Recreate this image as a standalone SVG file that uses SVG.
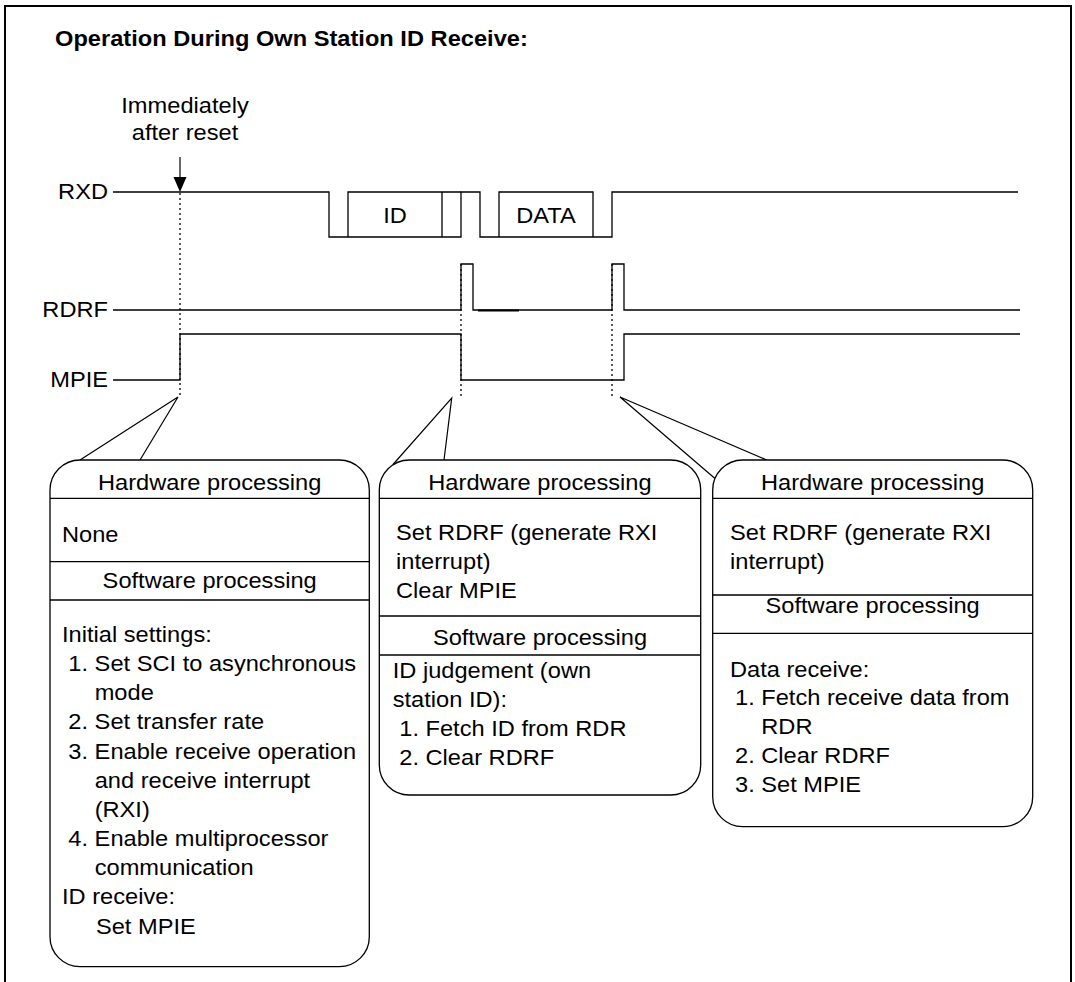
<svg xmlns="http://www.w3.org/2000/svg" width="1075" height="982" viewBox="0 0 1075 982">
<style>
text{font-family:"Liberation Sans",Arial,Helvetica,sans-serif;font-size:22px;fill:#000}
.t{font-weight:bold}
.m{text-anchor:middle}
.e{text-anchor:end}
.w{fill:none;stroke:#000;stroke-width:1.3}
.box{fill:#fff;stroke:#000;stroke-width:1.3}
.div{stroke:#000;stroke-width:1.3}
.dot{stroke:#000;stroke-width:1.3;stroke-dasharray:2 3}
.cl{stroke:#000;stroke-width:1.2}
</style>
<rect x="5" y="6" width="1066" height="990" fill="#fff" stroke="#000" stroke-width="2"/>
<g id="title" transform="matrix(1.075 0 0 1 55 0)"><text class="t" x="0" y="46">Operation During Own Station ID Receive:</text></g>
<g id="reset-label" transform="matrix(1.075 0 0 1 185 0)">
<text class="m" x="0" y="113">Immediately</text>
<text class="m" x="0" y="140">after reset</text>
</g>
<g id="signal-labels" transform="matrix(1.075 0 0 1 108 0)">
<text class="e" x="0" y="199">RXD</text>
<text class="e" x="0" y="317">RDRF</text>
<text class="e" x="0" y="387">MPIE</text>
</g>
<g id="waveforms">
<path class="w" d="M113,192 H329 V237 H461 V192 H480 V237 H612 V192 H1018"/>
<path class="w" d="M348,237 V192 H461 M442,192 V237 M499,237 V192 H593 V237"/>
<path class="w" d="M113,310 H461 V264 H473 V310 H612 V264 H624 V310 H1020"/>
<line x1="478" y1="310.4" x2="519" y2="310.4" stroke="#000" stroke-width="2"/>
<path class="w" d="M113,380 H180 V334 H461 V380 H624 V334 H1020"/>
<g transform="matrix(1.075 0 0 1 395 0)"><text class="m" x="0" y="223">ID</text></g>
<g transform="matrix(1.075 0 0 1 546 0)"><text class="m" x="0" y="223">DATA</text></g>
</g>
<g id="connectors">
<line class="cl" x1="180" y1="157" x2="180" y2="178"/>
<polygon points="173.5,177 186.5,177 180,192" fill="#000"/>
<line class="dot" x1="180" y1="193" x2="180" y2="397"/>
<line class="dot" x1="461" y1="264" x2="461" y2="397"/>
<line class="dot" x1="612" y1="264" x2="612" y2="397"/>
<polyline class="cl" fill="none" points="80,460 178,397 140,460"/>
<polyline class="cl" fill="none" points="393,464.5 451.7,398 444,460"/>
<polyline class="cl" fill="none" points="715,478.5 620,397 766.7,460"/>
</g>
<g id="box1">
<rect class="box" x="50" y="460" width="319.3" height="506.7" rx="30" ry="30"/>
<line class="div" x1="50" y1="498.3" x2="369.3" y2="498.3"/>
<line class="div" x1="50" y1="561.7" x2="369.3" y2="561.7"/>
<line class="div" x1="50" y1="600" x2="369.3" y2="600"/>
<g transform="matrix(1.075 0 0 1 62 0)">
<text class="m" x="137.4" y="490">Hardware processing</text>
<text x="0" y="541.7">None</text>
<text class="m" x="137.4" y="588">Software processing</text>
<text x="0" y="642">Initial settings:</text>
<text x="5.9" y="671.2">1. Set SCI to asynchronous</text>
<text x="30.4" y="700.3">mode</text>
<text x="5.9" y="729.5">2. Set transfer rate</text>
<text x="5.9" y="758.6">3. Enable receive operation</text>
<text x="30.4" y="787.8">and receive interrupt</text>
<text x="30.4" y="817">(RXI)</text>
<text x="5.9" y="846.1">4. Enable multiprocessor</text>
<text x="30.4" y="875.3">communication</text>
<text x="0" y="904.4">ID receive:</text>
<text x="31.6" y="933.6">Set MPIE</text>
</g>
</g>
<g id="box2">
<rect class="box" x="379.3" y="460" width="321.4" height="335" rx="30" ry="30"/>
<line class="div" x1="379.3" y1="498.3" x2="700.7" y2="498.3"/>
<line class="div" x1="379.3" y1="616" x2="700.7" y2="616"/>
<line class="div" x1="379.3" y1="655" x2="700.7" y2="655"/>
<g transform="matrix(1.075 0 0 1 392.7 0)">
<text class="m" x="137" y="490">Hardware processing</text>
<text x="3.1" y="540">Set RDRF (generate RXI</text>
<text x="3.1" y="569">interrupt)</text>
<text x="3.1" y="598">Clear MPIE</text>
<text class="m" x="137" y="645">Software processing</text>
<text x="0" y="678.5">ID judgement (own</text>
<text x="0" y="707">station ID):</text>
<text x="6.1" y="736">1. Fetch ID from RDR</text>
<text x="6.1" y="765">2. Clear RDRF</text>
</g>
</g>
<g id="box3">
<rect class="box" x="712.7" y="460" width="320" height="366.7" rx="30" ry="30"/>
<line class="div" x1="712.7" y1="498.3" x2="1032.7" y2="498.3"/>
<line class="div" x1="712.7" y1="595" x2="1032.7" y2="595"/>
<line class="div" x1="712.7" y1="633.3" x2="1032.7" y2="633.3"/>
<g transform="matrix(1.075 0 0 1 730 0)">
<text class="m" x="132.7" y="490">Hardware processing</text>
<text x="0" y="540">Set RDRF (generate RXI</text>
<text x="0" y="569">interrupt)</text>
<text class="m" x="132.7" y="613.3">Software processing</text>
<text x="0" y="676.7">Data receive:</text>
<text x="4.65" y="705.5">1. Fetch receive data from</text>
<text x="29.1" y="734.5">RDR</text>
<text x="4.65" y="763.5">2. Clear RDRF</text>
<text x="4.65" y="792.5">3. Set MPIE</text>
</g>
</g>
</svg>
